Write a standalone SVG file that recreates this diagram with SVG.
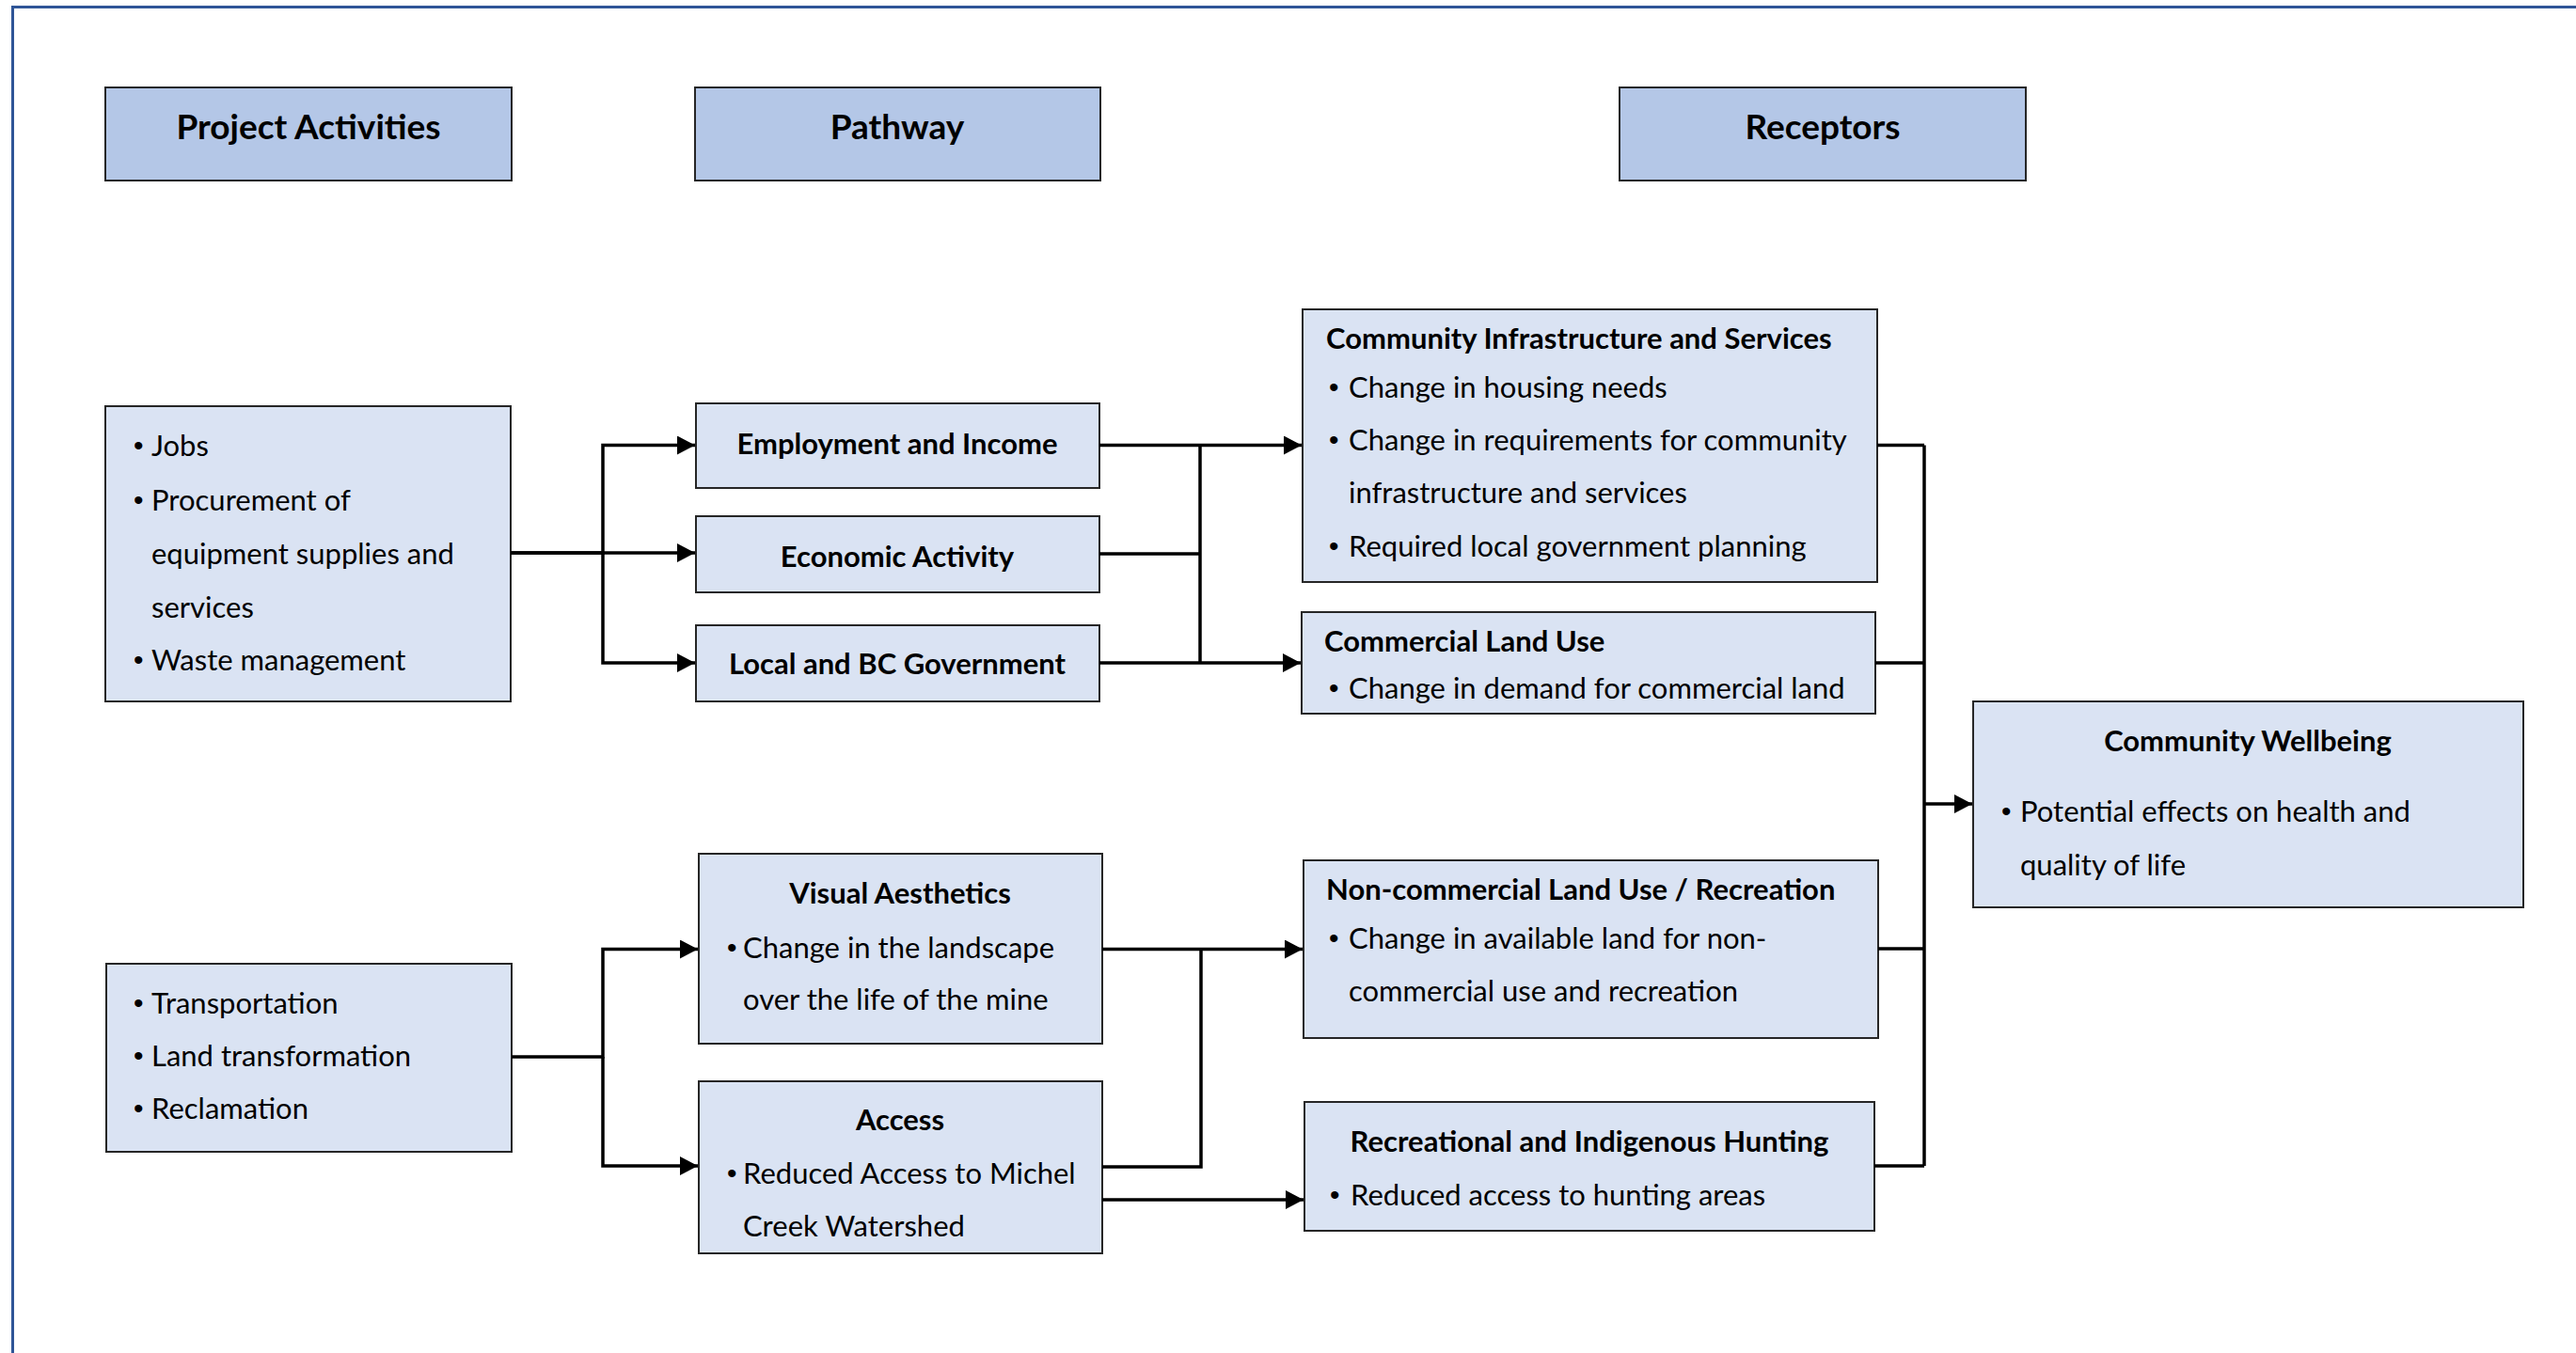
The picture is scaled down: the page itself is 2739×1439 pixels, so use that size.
<svg xmlns="http://www.w3.org/2000/svg" width="2739" height="1439" viewBox="0 0 2739 1439">
<defs>
<marker id="arr" markerUnits="userSpaceOnUse" markerWidth="22" markerHeight="22" refX="19" refY="10" orient="auto">
<polygon points="0,0 19,10 0,20" fill="#000"/>
</marker>
<style>
.hd{fill:#B4C7E7;stroke:#262626;stroke-width:2}
.nd{fill:#DAE3F3;stroke:#262626;stroke-width:2}
.ht{font-family:Lato,"Open Sans",sans-serif;font-weight:bold;font-size:37px;fill:#000;text-anchor:middle}
.tt{font-family:Lato,"Open Sans",sans-serif;font-weight:bold;font-size:31px;fill:#000}
.bt{font-family:Lato,"Open Sans",sans-serif;font-size:31px;fill:#000}
.bl{font-family:"Liberation Sans",Arial,sans-serif;font-size:30px;fill:#000}
.c{text-anchor:middle}
.ln{fill:none;stroke:#000;stroke-width:3.5}
.ar{fill:none;stroke:#000;stroke-width:3.5;marker-end:url(#arr)}
</style>
</defs>
<rect width="2739" height="1439" fill="#fff"/>
<path d="M13.5 1439 V7.5 H2739" fill="none" stroke="#2F5597" stroke-width="3"/>

<g id="h-activities"><rect class="hd" x="112" y="93" width="432" height="99"/><text class="ht" x="328" y="148">Project Activities</text></g>
<g id="h-pathway"><rect class="hd" x="739" y="93" width="431" height="99"/><text class="ht" x="954" y="148">Pathway</text></g>
<g id="h-receptors"><rect class="hd" x="1722" y="93" width="432" height="99"/><text class="ht" x="1938" y="148">Receptors</text></g>

<g id="n-activities1"><rect class="nd" x="112" y="432" width="431" height="314"/>
<text class="bl"><tspan x="142" y="484">•</tspan><tspan x="142" y="542">•</tspan><tspan x="142" y="712">•</tspan></text>
<text class="bt"><tspan x="161" y="485">Jobs</tspan><tspan x="161" y="543">Procurement of</tspan><tspan x="161" y="600">equipment supplies and</tspan><tspan x="161" y="657">services</tspan><tspan x="161" y="713">Waste management</tspan></text></g>

<g id="n-activities2"><rect class="nd" x="113" y="1025" width="431" height="200"/>
<text class="bl"><tspan x="142" y="1077">•</tspan><tspan x="142" y="1133">•</tspan><tspan x="142" y="1189">•</tspan></text>
<text class="bt"><tspan x="161" y="1078">Transportation</tspan><tspan x="161" y="1134">Land transformation</tspan><tspan x="161" y="1190">Reclamation</tspan></text></g>

<g id="n-employment"><rect class="nd" x="740" y="429" width="429" height="90"/><text class="tt c" x="954" y="483">Employment and Income</text></g>
<g id="n-economic"><rect class="nd" x="740" y="549" width="429" height="81"/><text class="tt c" x="954" y="603">Economic Activity</text></g>
<g id="n-government"><rect class="nd" x="740" y="665" width="429" height="81"/><text class="tt c" x="954" y="717">Local and BC Government</text></g>

<g id="n-visual"><rect class="nd" x="743" y="908" width="429" height="202"/>
<text class="tt c" x="957" y="961">Visual Aesthetics</text>
<text class="bl"><tspan x="773" y="1018">•</tspan></text>
<text class="bt"><tspan x="790" y="1019">Change in the landscape</tspan><tspan x="790" y="1074">over the life of the mine</tspan></text></g>

<g id="n-access"><rect class="nd" x="743" y="1150" width="429" height="183"/>
<text class="tt c" x="957" y="1202">Access</text>
<text class="bl"><tspan x="773" y="1258">•</tspan></text>
<text class="bt"><tspan x="790" y="1259">Reduced Access to Michel</tspan><tspan x="790" y="1315">Creek Watershed</tspan></text></g>

<g id="n-infrastructure"><rect class="nd" x="1385" y="329" width="611" height="290"/>
<text class="tt" x="1410" y="371">Community Infrastructure and Services</text>
<text class="bl"><tspan x="1413" y="422">•</tspan><tspan x="1413" y="478">•</tspan><tspan x="1413" y="591">•</tspan></text>
<text class="bt"><tspan x="1434" y="423">Change in housing needs</tspan><tspan x="1434" y="479">Change in requirements for community</tspan><tspan x="1434" y="535">infrastructure and services</tspan><tspan x="1434" y="592">Required local government planning</tspan></text></g>

<g id="n-commercial"><rect class="nd" x="1384" y="651" width="610" height="108"/>
<text class="tt" x="1408" y="693">Commercial Land Use</text>
<text class="bl"><tspan x="1413" y="742">•</tspan></text>
<text class="bt"><tspan x="1434" y="743">Change in demand for commercial land</tspan></text></g>

<g id="n-noncommercial"><rect class="nd" x="1386" y="915" width="611" height="189"/>
<text class="tt" x="1410" y="957">Non-commercial Land Use / Recreation</text>
<text class="bl"><tspan x="1413" y="1008">•</tspan></text>
<text class="bt"><tspan x="1434" y="1009">Change in available land for non-</tspan><tspan x="1434" y="1065">commercial use and recreation</tspan></text></g>

<g id="n-hunting"><rect class="nd" x="1387" y="1172" width="606" height="137"/>
<text class="tt c" x="1690" y="1225">Recreational and Indigenous Hunting</text>
<text class="bl"><tspan x="1414" y="1281">•</tspan></text>
<text class="bt"><tspan x="1436" y="1282">Reduced access to hunting areas</tspan></text></g>

<g id="n-wellbeing"><rect class="nd" x="2098" y="746" width="585" height="219"/>
<text class="tt c" x="2390" y="799">Community Wellbeing</text>
<text class="bl"><tspan x="2128" y="873">•</tspan></text>
<text class="bt"><tspan x="2148" y="874">Potential effects on health and</tspan><tspan x="2148" y="931">quality of life</tspan></text></g>

<g id="connectors">
<path class="ar" d="M543 588 H641 V473.5 H739"/>
<path class="ar" d="M543 588 H739"/>
<path class="ar" d="M641 588 V705 H739"/>
<path class="ar" d="M1169 473.5 H1384"/>
<path class="ln" d="M1169 589 H1276"/>
<path class="ar" d="M1169 705 H1383"/>
<path class="ln" d="M1276 473.5 V705"/>
<path class="ar" d="M544 1124 H641 V1009.5 H742"/>
<path class="ar" d="M641 1124 V1240 H742"/>
<path class="ar" d="M1172 1009.5 H1385"/>
<path class="ln" d="M1172 1241 H1277 V1009.5"/>
<path class="ar" d="M1172 1276 H1386"/>
<path class="ln" d="M1996 473.5 H2046"/>
<path class="ln" d="M1994 705 H2046"/>
<path class="ln" d="M1997 1009 H2046"/>
<path class="ln" d="M1993 1240 H2046"/>
<path class="ln" d="M2046 473.5 V1240"/>
<path class="ar" d="M2046 855 H2097"/>
</g>
</svg>
